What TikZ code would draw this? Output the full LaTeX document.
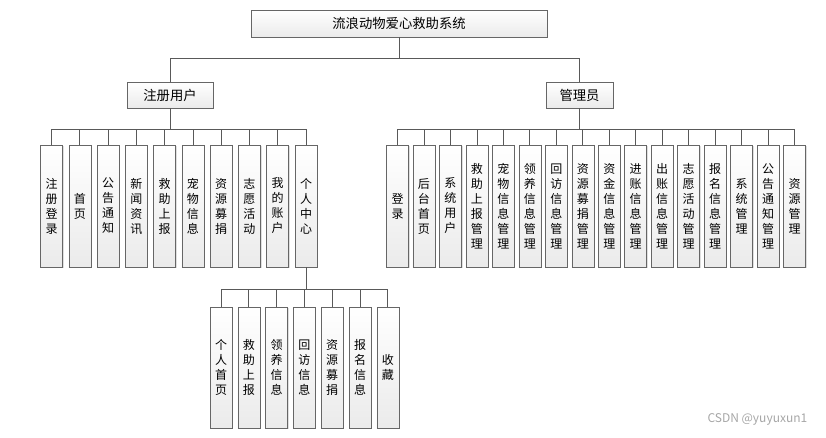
\documentclass[tikz,border=0pt]{standalone}
\usepackage{fontspec}
\newfontfamily\cjk{Noto Sans CJK SC}
\usetikzlibrary{shadows}

\tikzset{
  sysbox/.style={draw=black!60, top color=white, bottom color=black!8,
    inner sep=0pt, font=\cjk\fontsize{10}{12}\selectfont,
    drop shadow={shadow xshift=0.8pt,shadow yshift=-0.8pt,opacity=0.25}},
  leaf/.style={sysbox, minimum width=16.5pt, minimum height=91.5pt,
    text width=10pt, align=center, font=\cjk\fontsize{9}{11.25}\selectfont},
  link/.style={draw=black!65, line width=0.6pt}
}

\begin{document}
\begin{tikzpicture}[x=0.75pt,y=-0.75pt]
  \useasboundingbox (0,0) rectangle (826,437);
  % system and the two roles
  \node[sysbox, minimum width=222pt, minimum height=20.25pt] (root) at (399,23.5) {流浪动物爱心救助系统};
  \node[sysbox, minimum width=64.5pt, minimum height=19.5pt] (user) at (170,95) {注册用户};
  \node[sysbox, minimum width=50.25pt, minimum height=19.5pt] (admin) at (579.5,95) {管理员};
  \draw[link] (root.south) -- ++(0,21) -| (user.north);
  \draw[link] (root.south) -- ++(0,21) -| (admin.north);
  % registered user functions
  \foreach \t [count=\i] in {{注\\册\\登\\录},{首\\页},{公\\告\\通\\知},{新\\闻\\资\\讯},
      {救\\助\\上\\报},{宠\\物\\信\\息},{资\\源\\募\\捐},{志\\愿\\活\\动},{我\\的\\账\\户},{个\\人\\中\\心}}
    \node[leaf] (u\i) at ({51.5+28.28*(\i-1)},206) {\t};
  \foreach \i in {1,...,10}
    \draw[link] (user.south) -- ++(0,21) -| (u\i.north);
  % administrator functions
  \foreach \t [count=\i] in {{登\\录},{后\\台\\首\\页},{系\\统\\用\\户},{救\\助\\上\\报\\管\\理},
      {宠\\物\\信\\息\\管\\理},{领\\养\\信\\息\\管\\理},{回\\访\\信\\息\\管\\理},{资\\源\\募\\捐\\管\\理},
      {资\\金\\信\\息\\管\\理},{进\\账\\信\\息\\管\\理},{出\\账\\信\\息\\管\\理},{志\\愿\\活\\动\\管\\理},
      {报\\名\\信\\息\\管\\理},{系\\统\\管\\理},{公\\告\\通\\知\\管\\理},{资\\源\\管\\理}}
    \node[leaf] (a\i) at ({397.5+26.47*(\i-1)},206) {\t};
  \foreach \i in {1,...,16}
    \draw[link] (admin.south) -- ++(0,21) -| (a\i.north);
  % personal center
  \foreach \t [count=\i] in {{个\\人\\首\\页},{救\\助\\上\\报},{领\\养\\信\\息},{回\\访\\信\\息},
      {资\\源\\募\\捐},{报\\名\\信\\息},{收\\藏}}
    \node[leaf, minimum height=90.75pt] (p\i) at ({221+27.8*(\i-1)},367.5) {\t};
  \foreach \i in {1,...,7}
    \draw[link] (u10.south) -- ++(0,22) -| (p\i.north);
  % watermark
  \node[font=\cjk\fontsize{9}{10}\selectfont, text=black!35, anchor=east] (mark) at (812,419) {CSDN @yuyuxun1};
\end{tikzpicture}
\end{document}
